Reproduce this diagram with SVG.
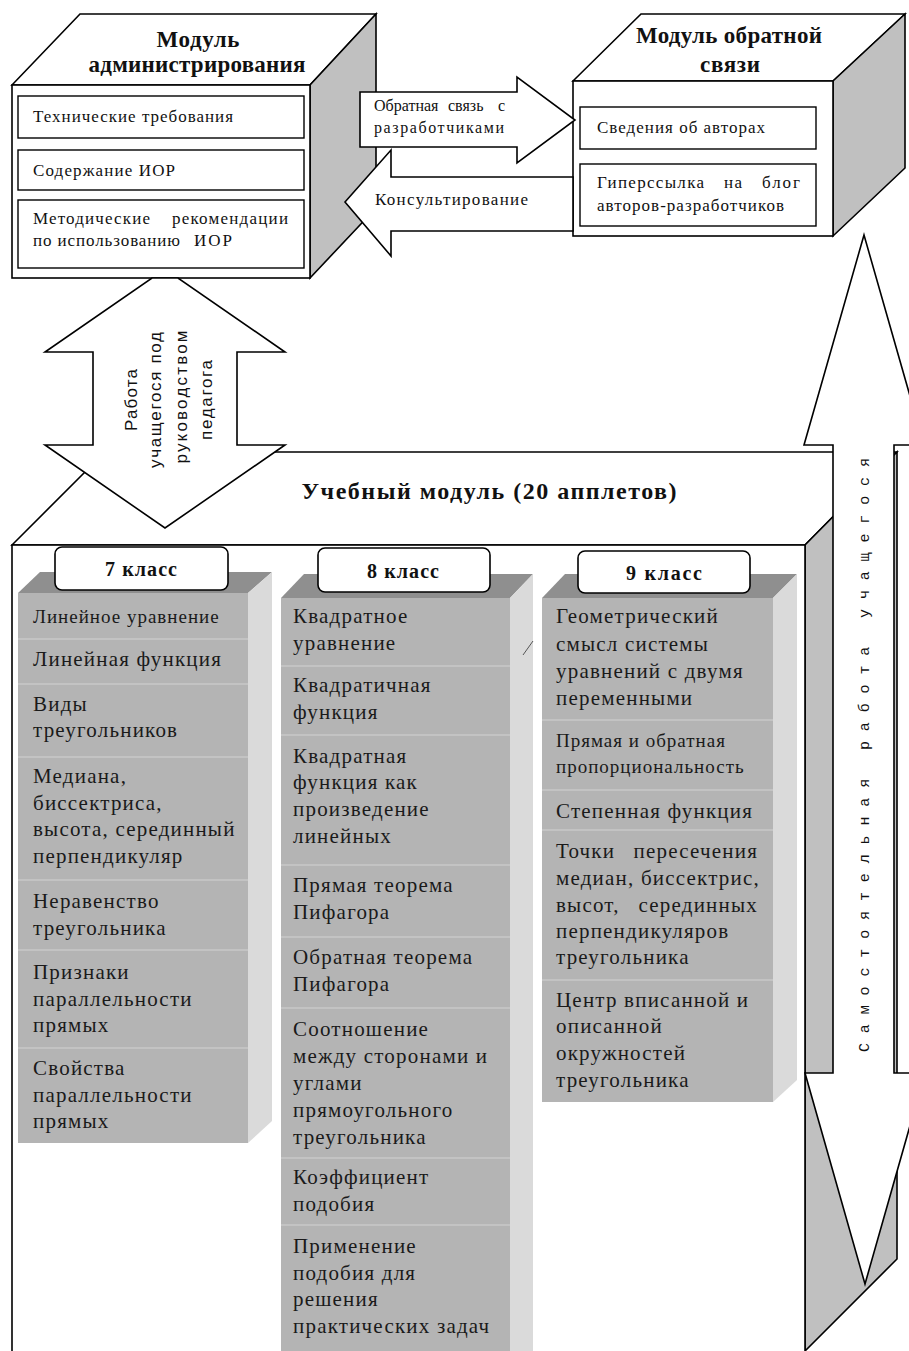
<svg xmlns="http://www.w3.org/2000/svg" width="909" height="1351" viewBox="0 0 909 1351">
<style>
.face{fill:#fff;stroke:#000;stroke-width:1.6}
.side{fill:#c0c0c0;stroke:#000;stroke-width:1.6}
.box{fill:#fff;stroke:#000;stroke-width:1.4}
.t{font-family:"Liberation Serif","Times New Roman",serif;fill:#111}
.s{font-size:17px}
.s2{font-size:16px}
.h{font-size:23px;font-weight:bold}
.lh{font-size:20px;font-weight:bold}
.c{font-size:21px;letter-spacing:1.2px;fill:#1a1a1a}
.c2{font-size:19px;letter-spacing:1px;fill:#1a1a1a}
.bar{fill:#b4b4b4}
.bartop{fill:#8f8f8f}
.barside{fill:#dadada}
.sep{stroke:#c9c9c9;stroke-width:1.5}
.lbl{fill:#fff;stroke:#000;stroke-width:1.6}
.arr{fill:#fff;stroke:#000;stroke-width:1.6;stroke-linejoin:miter}
.v{font-family:"Liberation Sans",Arial,sans-serif;font-size:17px;fill:#111}
.m{font-family:"Liberation Mono","Courier New",monospace;font-size:15px;fill:#111}
</style>
<rect width="909" height="1351" fill="#fff"/>

<g id="learning-module">
<polygon class="face" points="12,545 105,452 897,452 805,545"/>
<polygon class="side" points="805,545 897,452 897,1259 805,1351"/>
<rect class="face" x="12" y="545" width="793" height="830"/>
<text class="t h" x="489" y="499" text-anchor="middle" style="font-size:24px" textLength="375">Учебный модуль (20 апплетов)</text>
</g>

<g id="col-7">
<polygon class="bartop" points="18,593 40,572 272,572 248,593"/>
<polygon class="barside" points="248,593 272,572 272,1121 248,1143"/>
<rect class="bar" x="18" y="593" width="230" height="550"/>
<line class="sep" x1="18" y1="639" x2="248" y2="639"/>
<line class="sep" x1="18" y1="684" x2="248" y2="684"/>
<line class="sep" x1="18" y1="757" x2="248" y2="757"/>
<line class="sep" x1="18" y1="880" x2="248" y2="880"/>
<line class="sep" x1="18" y1="950" x2="248" y2="950"/>
<line class="sep" x1="18" y1="1048" x2="248" y2="1048"/>
<rect class="lbl" x="55" y="547" width="173" height="43" rx="7"/>
<text class="t lh" x="141" y="576" text-anchor="middle" textLength="72">7 класс</text>
<text class="t c2" x="33" y="623">Линейное уравнение</text>
<text class="t c" x="33" y="666">Линейная функция</text>
<text class="t c" x="33" y="711">Виды</text>
<text class="t c" x="33" y="737">треугольников</text>
<text class="t c" x="33" y="783">Медиана,</text>
<text class="t c" x="33" y="810">биссектриса,</text>
<text class="t c" x="33" y="836">высота, серединный</text>
<text class="t c" x="33" y="863">перпендикуляр</text>
<text class="t c" x="33" y="908">Неравенство</text>
<text class="t c" x="33" y="935">треугольника</text>
<text class="t c" x="33" y="979">Признаки</text>
<text class="t c" x="33" y="1006">параллельности</text>
<text class="t c" x="33" y="1032">прямых</text>
<text class="t c" x="33" y="1075">Свойства</text>
<text class="t c" x="33" y="1102">параллельности</text>
<text class="t c" x="33" y="1128">прямых</text>
</g>

<g id="col-8">
<polygon class="bartop" points="281,598 304,574 533,574 510,598"/>
<polygon class="barside" points="510,598 533,574 533,1370 510,1390"/>
<rect class="bar" x="281" y="598" width="229" height="770"/>
<line x1="523" y1="655" x2="533" y2="641" stroke="#555" stroke-width="1"/>
<line class="sep" x1="281" y1="666" x2="510" y2="666"/>
<line class="sep" x1="281" y1="735" x2="510" y2="735"/>
<line class="sep" x1="281" y1="865" x2="510" y2="865"/>
<line class="sep" x1="281" y1="937" x2="510" y2="937"/>
<line class="sep" x1="281" y1="1008" x2="510" y2="1008"/>
<line class="sep" x1="281" y1="1158" x2="510" y2="1158"/>
<line class="sep" x1="281" y1="1225" x2="510" y2="1225"/>
<rect class="lbl" x="318" y="548" width="172" height="44" rx="7"/>
<text class="t lh" x="403" y="578" text-anchor="middle" textLength="72">8 класс</text>
<text class="t c" x="293" y="623">Квадратное</text>
<text class="t c" x="293" y="650">уравнение</text>
<text class="t c" x="293" y="692">Квадратичная</text>
<text class="t c" x="293" y="719">функция</text>
<text class="t c" x="293" y="763">Квадратная</text>
<text class="t c" x="293" y="789">функция как</text>
<text class="t c" x="293" y="816">произведение</text>
<text class="t c" x="293" y="843">линейных</text>
<text class="t c" x="293" y="892">Прямая теорема</text>
<text class="t c" x="293" y="919">Пифагора</text>
<text class="t c" x="293" y="964">Обратная теорема</text>
<text class="t c" x="293" y="991">Пифагора</text>
<text class="t c" x="293" y="1036">Соотношение</text>
<text class="t c" x="293" y="1063">между сторонами и</text>
<text class="t c" x="293" y="1090">углами</text>
<text class="t c" x="293" y="1117">прямоугольного</text>
<text class="t c" x="293" y="1144">треугольника</text>
<text class="t c" x="293" y="1184">Коэффициент</text>
<text class="t c" x="293" y="1211">подобия</text>
<text class="t c" x="293" y="1253">Применение</text>
<text class="t c" x="293" y="1280">подобия для</text>
<text class="t c" x="293" y="1306">решения</text>
<text class="t c" x="293" y="1333">практических задач</text>
</g>

<g id="col-9">
<polygon class="bartop" points="542,598 565,574 797,574 773,598"/>
<polygon class="barside" points="773,598 797,574 797,1080 773,1102"/>
<rect class="bar" x="542" y="598" width="231" height="504"/>
<line class="sep" x1="542" y1="720" x2="773" y2="720"/>
<line class="sep" x1="542" y1="790" x2="773" y2="790"/>
<line class="sep" x1="542" y1="830" x2="773" y2="830"/>
<line class="sep" x1="542" y1="980" x2="773" y2="980"/>
<rect class="lbl" x="578" y="551" width="172" height="42" rx="7"/>
<text class="t lh" x="664" y="580" text-anchor="middle" textLength="76">9 класс</text>
<text class="t c" x="556" y="623">Геометрический</text>
<text class="t c" x="556" y="651">смысл системы</text>
<text class="t c" x="556" y="678">уравнений с двумя</text>
<text class="t c" x="556" y="705">переменными</text>
<text class="t c2" x="556" y="747">Прямая и обратная</text>
<text class="t c2" x="556" y="773">пропорциональность</text>
<text class="t c" x="556" y="818">Степенная функция</text>
<text class="t c" x="556" y="858">Точки</text>
<text class="t c" x="758" y="858" text-anchor="end">пересечения</text>
<text class="t c" x="556" y="885">медиан, биссектрис,</text>
<text class="t c" x="556" y="912">высот,</text>
<text class="t c" x="758" y="912" text-anchor="end">серединных</text>
<text class="t c" x="556" y="938">перпендикуляров</text>
<text class="t c" x="556" y="964">треугольника</text>
<text class="t c" x="556" y="1007">Центр вписанной и</text>
<text class="t c" x="556" y="1033">описанной</text>
<text class="t c" x="556" y="1060">окружностей</text>
<text class="t c" x="556" y="1087">треугольника</text>
</g>

<g id="admin-module">
<polygon class="face" points="12,85 80,14 376,14 310,85"/>
<polygon class="side" points="310,85 376,14 376,208 310,278"/>
<rect class="face" x="12" y="85" width="298" height="193"/>
<rect class="box" x="18" y="96" width="286" height="42"/>
<rect class="box" x="18" y="150" width="286" height="40"/>
<rect class="box" x="18" y="200" width="286" height="68"/>
<text class="t h" x="198" y="47" text-anchor="middle" textLength="83">Модуль</text>
<text class="t h" x="197" y="72" text-anchor="middle" textLength="217">администрирования</text>
<text class="t s" x="33" y="122" textLength="200">Технические требования</text>
<text class="t s" x="33" y="176" textLength="142">Содержание ИОР</text>
<text class="t s" x="33" y="224" textLength="117">Методические</text>
<text class="t s" x="172" y="224" textLength="116">рекомендации</text>
<text class="t s" x="33" y="246" textLength="147">по использованию</text>
<text class="t s" x="194" y="246" textLength="38">ИОР</text>
</g>

<g id="feedback-module">
<polygon class="face" points="573,81 641,14 905,14 833,81"/>
<polygon class="side" points="833,81 905,14 905,168 833,236"/>
<rect class="face" x="573" y="81" width="260" height="155"/>
<rect class="box" x="580" y="107" width="236" height="42"/>
<rect class="box" x="580" y="164" width="236" height="62"/>
<text class="t h" x="729" y="43" text-anchor="middle" textLength="186">Модуль обратной</text>
<text class="t h" x="730" y="72" text-anchor="middle" textLength="60">связи</text>
<text class="t s" x="597" y="133" textLength="168">Сведения об авторах</text>
<text class="t s" x="597" y="188" textLength="107">Гиперссылка</text>
<text class="t s" x="724" y="188" textLength="18">на</text>
<text class="t s" x="762" y="188" textLength="38">блог</text>
<text class="t s" x="597" y="211" textLength="187">авторов-разработчиков</text>
</g>

<g id="connectors">
<g id="arrow-feedback">
<polygon class="arr" points="360,92 517,92 517,77 575,120 517,163 517,147 360,147"/>
<text class="t s2" x="374" y="111">Обратная</text>
<text class="t s2" x="448" y="111">связь</text>
<text class="t s2" x="498" y="111">с</text>
<text class="t s2" x="374" y="133" textLength="130">разработчиками</text>
</g>
<g id="arrow-consult">
<polygon class="arr" points="345,202 391,150 391,177 573,177 573,231 391,231 391,256"/>
<text class="t s" x="375" y="205" textLength="153">Консультирование</text>
</g>
<g id="arrow-guided">
<polygon class="arr" points="152,278 178,278 285,352 237,352 237,445 285,445 165,528 45,445 93,445 93,352 45,352"/>
<g class="v" text-anchor="middle">
<text transform="translate(137,400) rotate(-90)" textLength="62">Работа</text>
<text transform="translate(161,400) rotate(-90)" textLength="136">учащегося под</text>
<text transform="translate(187,397) rotate(-90)" textLength="133">руководством</text>
<text transform="translate(212,400) rotate(-90)" textLength="80">педагога</text>
</g>
</g>
<g id="arrow-self">
<polygon class="arr" points="864,235 924,445 894,445 894,1073 925,1073 865,1284 805,1073 833,1073 833,445 804,445"/>
<text class="m" transform="translate(869,755) rotate(-90)" text-anchor="middle" textLength="594" lengthAdjust="spacing">Самостоятельная работа учащегося</text>
</g>
</g>
</svg>
